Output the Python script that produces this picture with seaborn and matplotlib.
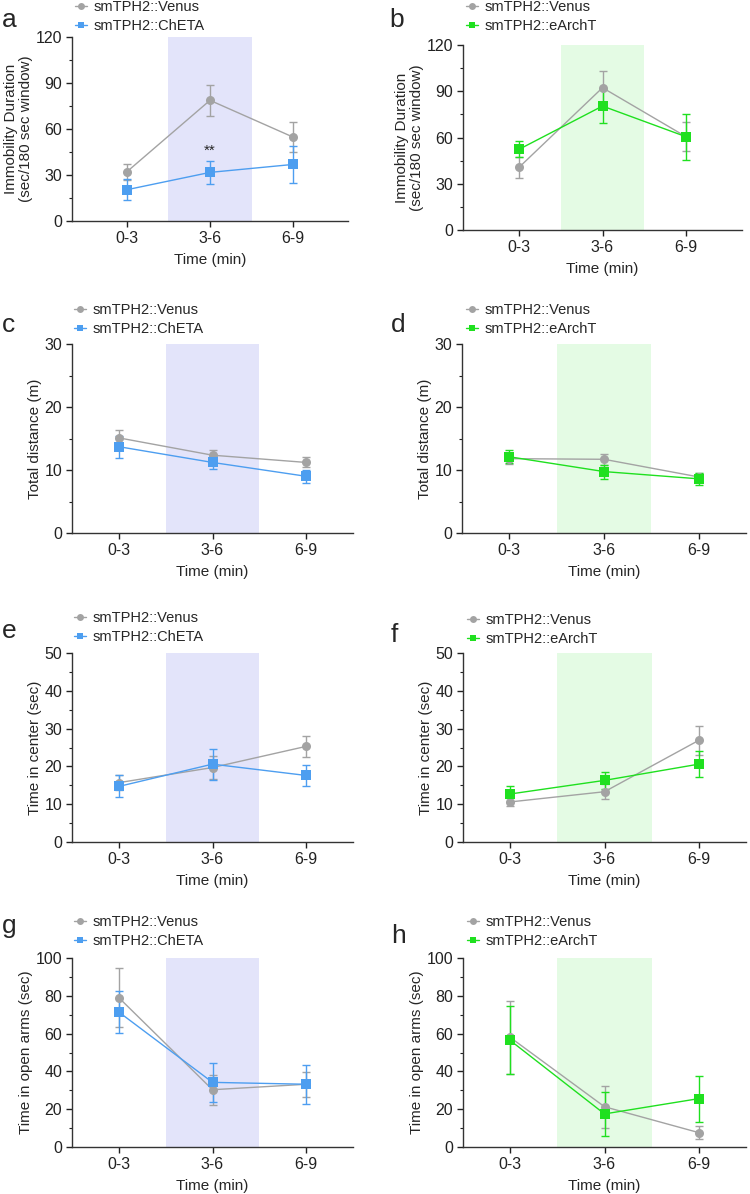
import numpy as np
import pandas as pd
import matplotlib
matplotlib.use('Agg')
import matplotlib.pyplot as plt
from matplotlib.lines import Line2D
from matplotlib.ticker import MultipleLocator
import seaborn as sns

# data (mean +/- sem), 3 time bins
time_labels = ['0-3', '3-6', '6-9']
ctrl_name = 'smTPH2::Venus'
cheta_name = 'smTPH2::ChETA'
arch_name = 'smTPH2::eArchT'

# a / b : immobility (tail suspension)
a_venus = [32.1, 78.7, 54.7]
a_venus_sem = [5.4, 10.3, 10.0]
a_cheta = [20.4, 31.7, 36.9]
a_cheta_sem = [6.8, 7.3, 12.2]
b_venus = [40.6, 92.3, 60.5]
b_venus_sem = [7.0, 11.0, 9.5]
b_arch = [52.3, 80.4, 60.5]
b_arch_sem = [5.2, 11.2, 15.0]
# c / d : total distance
c_venus = [15.1, 12.35, 11.2]
c_venus_sem = [1.2, 0.85, 0.8]
c_cheta = [13.7, 11.2, 9.0]
c_cheta_sem = [1.75, 1.1, 1.0]
d_venus = [11.8, 11.7, 8.9]
d_venus_sem = [0.8, 0.85, 0.7]
d_arch = [12.1, 9.75, 8.6]
d_arch_sem = [1.0, 1.1, 0.95]
# e / f : time in center
e_venus = [15.7, 19.7, 25.3]
e_venus_sem = [1.9, 3.0, 2.8]
e_cheta = [14.7, 20.6, 17.6]
e_cheta_sem = [2.9, 4.1, 2.8]
f_venus = [10.6, 13.3, 26.9]
f_venus_sem = [1.0, 2.0, 3.9]
f_arch = [12.7, 16.3, 20.6]
f_arch_sem = [2.2, 2.2, 3.4]
# g / h : time in open arms
g_venus = [79.0, 30.3, 33.2]
g_venus_sem = [15.7, 8.0, 6.5]
g_cheta = [71.4, 34.2, 33.2]
g_cheta_sem = [11.2, 10.3, 10.4]
h_venus = [58.0, 21.3, 7.6]
h_venus_sem = [19.4, 11.0, 3.3]
h_arch = [56.4, 17.5, 25.6]
h_arch_sem = [18.0, 11.7, 12.2]

GRAY = '#a3a3a3'
BLUE = '#4d9ef0'
GREEN = '#1fe01f'
SHADE_BLUE = '#e3e4fa'
SHADE_GREEN = '#e4fbe4'

sns.set_style('ticks')
plt.rcParams['font.family'] = ['Liberation Sans', 'DejaVu Sans']

W, H = 750, 1194
fig = plt.figure(figsize=(W / 100, H / 100), dpi=100)


def px_rect(left, right, top, bottom):
    return [left / W, 1 - bottom / H, (right - left) / W, (bottom - top) / H]


# letter, venus, venus_sem, opto, opto_sem, opto name, colour, shade, ylabel,
# ymax, major, minor, axes rect (px), xpad, letter pos, legend pos
panels = [
    ('a', a_venus, a_venus_sem, a_cheta, a_cheta_sem, cheta_name, BLUE, SHADE_BLUE,
     'Immobility Duration\n(sec/180 sec window)', 120, 30, 15,
     (72, 348, 37, 221), 0.66, (2, 27), (75, 0)),
    ('b', b_venus, b_venus_sem, b_arch, b_arch_sem, arch_name, GREEN, SHADE_GREEN,
     'Immobility Duration\n(sec/180 sec window)', 120, 30, 15,
     (463, 742, 45, 230), 0.67, (389, 27), (466, 0)),
    ('c', c_venus, c_venus_sem, c_cheta, c_cheta_sem, cheta_name, BLUE, SHADE_BLUE,
     'Total distance (m)', 30, 10, 5,
     (72, 353, 344, 533), 0.5, (2, 332), (74, 303)),
    ('d', d_venus, d_venus_sem, d_arch, d_arch_sem, arch_name, GREEN, SHADE_GREEN,
     'Total distance (m)', 30, 10, 5,
     (462, 746, 344, 533), 0.5, (391, 332), (466, 303)),
    ('e', e_venus, e_venus_sem, e_cheta, e_cheta_sem, cheta_name, BLUE, SHADE_BLUE,
     'Time in center (sec)', 50, 10, 5,
     (72, 353, 653, 842), 0.5, (2, 638), (74, 611)),
    ('f', f_venus, f_venus_sem, f_arch, f_arch_sem, arch_name, GREEN, SHADE_GREEN,
     'Time in center (sec)', 50, 10, 5,
     (463, 746, 653, 842), 0.5, (391, 642), (467, 613)),
    ('g', g_venus, g_venus_sem, g_cheta, g_cheta_sem, cheta_name, BLUE, SHADE_BLUE,
     'Time in open arms (sec)', 100, 20, 10,
     (72, 353, 958, 1147), 0.5, (2, 933), (74, 915)),
    ('h', h_venus, h_venus_sem, h_arch, h_arch_sem, arch_name, GREEN, SHADE_GREEN,
     'Time in open arms (sec)', 100, 20, 10,
     (463, 746, 958, 1147), 0.5, (391, 943), (467, 915)),
]

for (letter, venus, venus_sem, opto, opto_sem, opto_name, color, shade, ylabel,
     ymax, major, minor, rect, xpad, letter_pos, leg_pos) in panels:
    ax = fig.add_axes(px_rect(*rect))
    x = np.arange(len(time_labels))

    # light-stimulation window
    ax.axvspan(0.5, 1.5, color=shade, lw=0, zorder=0)

    df = pd.DataFrame({
        't': np.concatenate([x, x]),
        'val': venus + opto,
        'group': [ctrl_name] * 3 + [opto_name] * 3,
    })
    sns.lineplot(data=df, x='t', y='val', hue='group', style='group',
                 markers={ctrl_name: 'o', opto_name: 's'}, dashes=False,
                 palette={ctrl_name: GRAY, opto_name: color},
                 markersize=6.5, markeredgewidth=0, linewidth=1,
                 legend=False, ax=ax, zorder=3)
    ax.errorbar(x, venus, yerr=venus_sem, fmt='none', ecolor=GRAY,
                elinewidth=1, capsize=3, capthick=1, zorder=2)
    ax.errorbar(x, opto, yerr=opto_sem, fmt='none', ecolor=color,
                elinewidth=1, capsize=3, capthick=1, zorder=2)

    ax.set_xlim(-xpad, 2 + xpad)
    ax.set_ylim(0, ymax)
    ax.set_xticks(x)
    ax.set_xticklabels(time_labels)
    ax.yaxis.set_major_locator(MultipleLocator(major))
    ax.yaxis.set_minor_locator(MultipleLocator(minor))
    ax.tick_params(axis='both', labelsize=11.5, colors='#222222', length=4, width=1, pad=3)
    ax.tick_params(axis='y', which='minor', length=2, width=0.8, color='#222222')
    ax.set_xlabel('Time (min)', fontsize=11, labelpad=5)
    ax.set_ylabel(ylabel, fontsize=11, labelpad=2, linespacing=1.1)
    sns.despine(ax=ax)
    for s in ['left', 'bottom']:
        ax.spines[s].set_color('#333333')
        ax.spines[s].set_linewidth(1)

    if letter == 'a':
        ax.text(1, 41, '**', ha='center', va='bottom', fontsize=11)

    handles = [
        Line2D([], [], color=GRAY, marker='o', markersize=5, lw=1, mew=0),
        Line2D([], [], color=color, marker='s', markersize=5, lw=1, mew=0),
    ]
    fig.legend(handles, [ctrl_name, opto_name], loc='upper left',
               bbox_to_anchor=(leg_pos[0] / W, 1 - leg_pos[1] / H),
               frameon=False, fontsize=10.5, handlelength=0.8, handletextpad=0.5,
               borderpad=0, borderaxespad=0, labelspacing=0.35)

    fig.text(letter_pos[0] / W, 1 - letter_pos[1] / H, letter,
             fontsize=19, ha='left', va='baseline')

fig.savefig('out.png', dpi=100)
